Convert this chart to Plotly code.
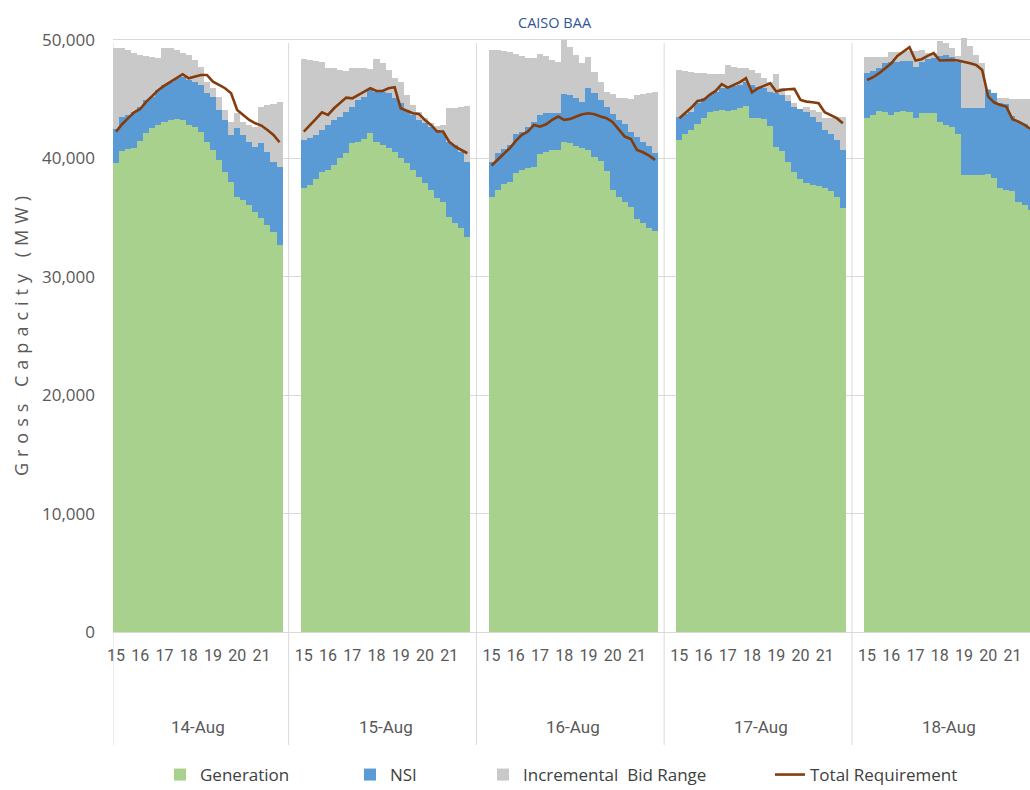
import numpy as np
import plotly.graph_objects as go

# ---------------- data ----------------
days = ["14-Aug", "15-Aug", "16-Aug", "17-Aug", "18-Aug"]
hour_labels = ["15", "16", "17", "18", "19", "20", "21"]
intervals_per_hour = 4          # 15-minute intervals, 15:00 - 21:45
slots_per_day = 31              # 28 intervals + category spacing between days

# Generation (MW)
generation = [
    [39640, 40630, 40770, 40850, 41470, 42120, 42540, 42820, 43050, 43240, 43330, 43240, 42820, 42680,
     42260, 41410, 40710, 39870, 38880, 38040, 36770, 36490, 36060, 35500, 34940, 34380, 33810, 32690],
    [37530, 37750, 38260, 38880, 39020, 39440, 40010, 40430, 41270, 41410, 41640, 42120, 41410, 41130,
     40850, 40570, 40060, 39580, 39020, 38460, 37900, 37330, 36630, 36350, 35080, 34520, 34090, 33390],
    [36770, 37330, 37810, 38040, 38740, 39020, 39220, 39300, 40340, 40570, 40710, 40710, 41360, 41270,
     41080, 40850, 40710, 40150, 39780, 38940, 37330, 36770, 36350, 35920, 34880, 34520, 34090, 33870],
    [41550, 42030, 42400, 42880, 43440, 43890, 44000, 44090, 44000, 44090, 44290, 44450, 43440, 43390,
     43330, 42770, 40990, 40630, 39720, 38820, 38260, 37900, 37750, 37700, 37530, 37250, 36770, 35780],
    [43390, 43670, 44030, 43950, 43670, 43950, 44030, 43950, 43390, 43810, 43860, 43860, 43100, 42820,
     42620, 42060, 38600, 38600, 38600, 38600, 38680, 38320, 37470, 37330, 37280, 36350, 36060, 35640],
]

# Generation + NSI level (MW)
gen_nsi_level = [
    [42460, 43530, 43670, 43950, 44370, 44930, 45210, 45780, 46200, 46480, 46760, 46900, 46620, 46480,
     46200, 45500, 45210, 44090, 43240, 41980, 42540, 41980, 41410, 40990, 41270, 40570, 39720, 39300],
    [41550, 41700, 41980, 42400, 42820, 43240, 43530, 43950, 44370, 44930, 45210, 45780, 45640, 45580,
     45500, 45070, 44650, 44090, 43670, 43240, 42960, 42680, 42400, 42120, 41410, 41130, 40570, 39720],
    [39720, 40430, 40790, 41130, 42030, 42200, 42680, 43050, 43670, 43810, 43810, 43810, 45410, 45360,
     45130, 44790, 45920, 45500, 44930, 44370, 43720, 43240, 42880, 42260, 41840, 41410, 41050, 40430],
    [43530, 43720, 43890, 44650, 45070, 45360, 45580, 45920, 46060, 46140, 46200, 46480, 46200, 46060,
     45920, 45640, 45500, 45360, 44850, 44370, 44170, 43890, 43530, 43050, 42400, 42030, 41550, 40710],
    [47190, 47410, 47610, 48030, 48170, 48170, 48260, 48260, 47690, 48170, 48370, 48450, 48650, 48730,
     48590, 48170, 44230, 44230, 44230, 44230, 45780, 45500, 44710, 44600, 43580, 43100, 42910, 42400],
]

# Generation + NSI + Incremental Bid Range level (MW)
gen_nsi_bid_level = [
    [49300, 49300, 49160, 48880, 48730, 48680, 48590, 48450, 49350, 49300, 49160, 48880, 48730, 48310,
     47750, 46480, 45920, 45210, 44090, 43050, 43810, 43100, 42820, 42680, 44370, 44510, 44570, 44790],
    [48370, 48310, 48230, 48170, 47660, 47610, 47470, 47380, 47660, 47660, 47610, 47520, 48370, 48030,
     47470, 46820, 46480, 45360, 44510, 43950, 43440, 42960, 42770, 42820, 44290, 44290, 44370, 44450],
    [49160, 49160, 49070, 48960, 48790, 48680, 48510, 48450, 48790, 48680, 48310, 48110, 50000, 49440,
     48730, 48030, 48590, 47330, 46430, 45580, 45410, 45130, 45070, 45020, 45360, 45410, 45500, 45580],
    [47470, 47380, 47330, 47190, 47190, 47100, 47100, 47100, 47890, 47750, 47660, 47610, 47470, 47190,
     46820, 46480, 47100, 45920, 45360, 44650, 44170, 44370, 44090, 43890, 43440, 43440, 43530, 43530],
    [48590, 48590, 48590, 48590, 49020, 49020, 49020, 49100, 49100, 49160, 48880, 48930, 49940, 49780,
     49300, 48650, 50140, 49490, 48730, 48090, 45830, 45500, 45070, 45070, 44990, 44990, 44990, 44990],
]

# Total Requirement (MW)
total_requirement = [
    [42260, 42880, 43390, 43890, 44170, 44790, 45270, 45780, 46140, 46480, 46820, 47100, 46760, 46900,
     47040, 47040, 46480, 46200, 45920, 45500, 44090, 43670, 43240, 42960, 42770, 42400, 41980, 41360],
    [42260, 42770, 43330, 43890, 43670, 44230, 44650, 45130, 45070, 45360, 45640, 45920, 45690, 45690,
     45920, 46000, 44230, 44000, 43810, 43750, 43240, 42820, 42260, 42260, 41410, 40990, 40710, 40430],
    [39390, 39870, 40340, 40850, 41470, 41980, 42260, 42820, 42680, 42880, 43240, 43530, 43240, 43330,
     43530, 43720, 43810, 43720, 43530, 43390, 43050, 42400, 41840, 41640, 40710, 40510, 40230, 39870],
    [43390, 43810, 44290, 44850, 44930, 45360, 45690, 46260, 45970, 46200, 46430, 46760, 45580, 45920,
     46140, 46340, 45640, 45780, 45830, 45860, 44930, 44790, 44740, 44650, 43890, 43670, 43390, 42960],
    [46620, 46850, 47190, 47610, 48030, 48650, 49020, 49380, 48260, 48370, 48650, 48880, 48260, 48310,
     48310, 48260, 48170, 48030, 47890, 47470, 45210, 44710, 44510, 44370, 43300, 43100, 42820, 42460],
]

y_ticks = [0, 10000, 20000, 30000, 40000, 50000]

# ---------------- build the table ----------------
gen_arr = np.array(generation, dtype=float)
nsi_arr = np.array(gen_nsi_level, dtype=float) - gen_arr
bid_arr = np.array(gen_nsi_bid_level, dtype=float) - np.array(gen_nsi_level, dtype=float)
req_arr = np.array(total_requirement, dtype=float)

n_int = gen_arr.shape[1]
xpos = np.array([[d * slots_per_day + i for i in range(n_int)] for d in range(len(days))], dtype=float)
x_flat = xpos.ravel()

# line with breaks between days
line_x, line_y = [], []
for d in range(len(days)):
    line_x += list(xpos[d]) + [None]
    line_y += list(req_arr[d]) + [None]

TXT = "#595959"
GRID = "#D9D9D9"

fig = go.Figure()
fig.add_trace(go.Bar(x=x_flat, y=gen_arr.ravel(), name="Generation",
                     marker=dict(color="#A9D18E", line=dict(width=0)), width=1.0, legend="legend"))
fig.add_trace(go.Bar(x=x_flat, y=nsi_arr.ravel(), name="NSI",
                     marker=dict(color="#5B9BD5", line=dict(width=0)), width=1.0, legend="legend2"))
fig.add_trace(go.Bar(x=x_flat, y=bid_arr.ravel(), name="Incremental  Bid Range",
                     marker=dict(color="#C9C9C9", line=dict(width=0)), width=1.0, legend="legend3"))
fig.add_trace(go.Scatter(x=line_x, y=line_y, name="Total Requirement", mode="lines",
                         line=dict(color="#843C0C", width=2.6), connectgaps=False, legend="legend4"))

# hour tick labels
tickvals, ticktext = [], []
for d in range(len(days)):
    for k, h in enumerate(hour_labels):
        tickvals.append(d * slots_per_day + k * intervals_per_hour)
        ticktext.append(h)

W, H = 1030, 790
ML, MR, MT, MB = 113, 0, 34, 158
plot_w = W - ML - MR
plot_h = H - MT - MB

def py(pix):  # pixel row -> paper y
    return (H - MB - pix) / plot_h

def px(pix):  # pixel column -> paper x
    return (pix - ML) / plot_w

shapes = []
for sx in [-0.5] + [d * slots_per_day - 2.5 for d in range(1, len(days))]:
    shapes.append(dict(type="line", xref="x", yref="paper", x0=sx, x1=sx,
                       y0=py(745), y1=py(43), line=dict(color=GRID, width=1), layer="below"))

annotations = []
for d, lab in enumerate(days):
    annotations.append(dict(x=d * slots_per_day + (n_int - 1) / 2, y=py(727), xref="x", yref="paper",
                            text=lab, showarrow=False, yanchor="middle",
                            font=dict(family="Roboto, sans-serif", size=17, color=TXT)))
annotations.append(dict(x=px(555), y=py(22), xref="paper", yref="paper", text="CAISO BAA",
                        showarrow=False, yanchor="middle",
                        font=dict(family="Open Sans, sans-serif", size=14.5, color="#2F5597")))

leg_font = dict(family="Open Sans, sans-serif", size=17, color="#404040")
def leg(xp):
    return dict(x=px(xp), y=py(775), xanchor="left", yanchor="middle", orientation="h",
                bgcolor="rgba(0,0,0,0)", font=leg_font, itemwidth=30)

fig.update_layout(
    width=W, height=H,
    margin=dict(l=ML, r=MR, t=MT, b=MB, autoexpand=False),
    paper_bgcolor="white", plot_bgcolor="white",
    barmode="stack", bargap=0,
    showlegend=True,
    legend=leg(160), legend2=leg(350), legend3=leg(483), legend4=leg(770),
    xaxis=dict(range=[-0.5, 150.9], tickmode="array", tickvals=tickvals, ticktext=ticktext,
               showgrid=False, zeroline=False, showline=True, linecolor=GRID, linewidth=1,
               ticks="", ticklabelstandoff=9, automargin=False,
               tickfont=dict(family="Roboto, sans-serif", size=16, color=TXT)),
    yaxis=dict(range=[0, 50500], tickmode="array", tickvals=y_ticks, tickformat=",",
               showgrid=True, gridcolor=GRID, gridwidth=1, zeroline=False, showline=False,
               ticks="", ticklabelstandoff=17, automargin=False,
               tickfont=dict(family="Open Sans, sans-serif", size=17, color=TXT),
               title=dict(text='<span style="letter-spacing:6px">Gross Capacity (MW)</span>',
                          standoff=8,
                          font=dict(family="Open Sans, sans-serif", size=18, color=TXT))),
    shapes=shapes, annotations=annotations,
)

fig.write_html("out.html", config={"displayModeBar": False},
               post_script="document.body.style.margin='0';document.body.style.overflow='hidden';")
